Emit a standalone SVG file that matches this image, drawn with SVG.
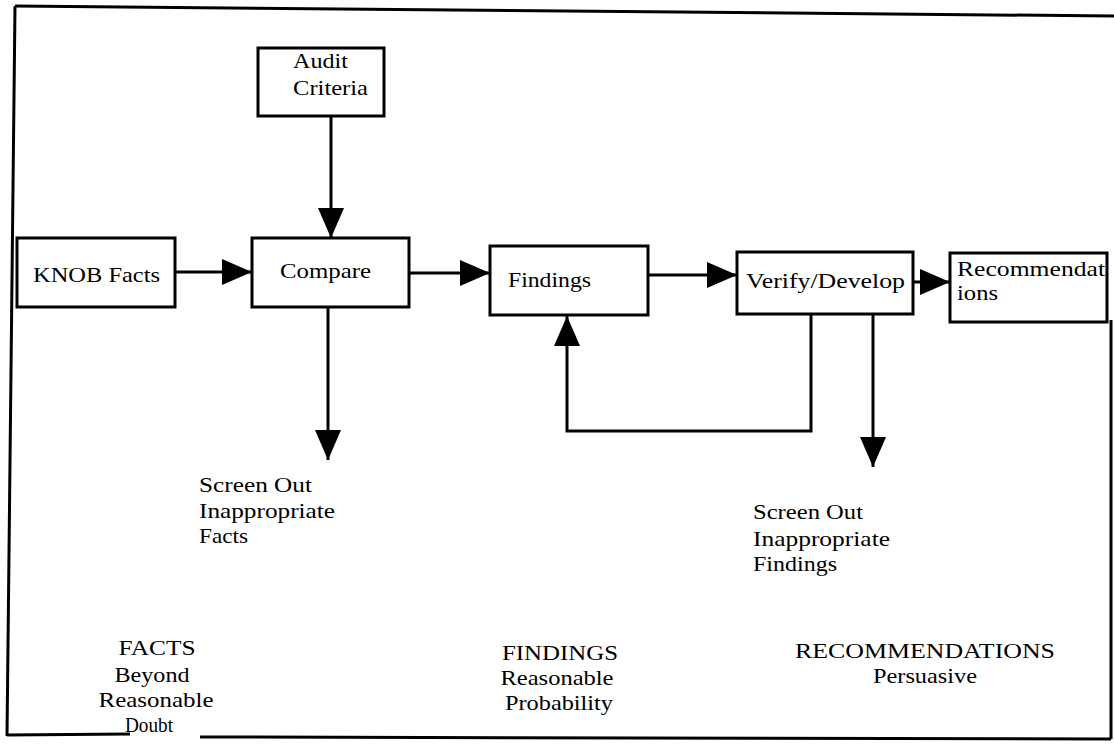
<svg xmlns="http://www.w3.org/2000/svg" width="1114" height="751" viewBox="0 0 1114 751">
<style>
.box{fill:#fff;stroke:#000;stroke-width:3}
.t{font-family:"Liberation Serif","DejaVu Serif",serif;font-size:21px;fill:#000}
.c{text-anchor:middle}
.ln{fill:none;stroke:#000;stroke-width:3}
.fr{fill:none;stroke:#000;stroke-width:3}
</style>
<defs>
<marker id="ah" markerUnits="userSpaceOnUse" markerWidth="32" markerHeight="28" refX="30" refY="13" orient="auto">
<path d="M0,0 L30,13 L0,26 z" fill="#000"/>
</marker>
</defs>
<rect width="1114" height="751" fill="#fff"/>
<g id="frame">
<path class="fr" d="M15,6 L1114,16"/>
<path class="fr" d="M15,6 L7,736"/>
<path class="fr" d="M7,735 L130,734"/>
<path class="fr" d="M200,737 L1111,739"/>
<path class="fr" d="M1111,320 L1111,739"/>
</g>
<g id="connectors">
<path class="ln" d="M331,116 L331,238" marker-end="url(#ah)"/>
<path class="ln" d="M175,272 L252,272" marker-end="url(#ah)"/>
<path class="ln" d="M328,307 L328,460" marker-end="url(#ah)"/>
<path class="ln" d="M409,273 L490,273" marker-end="url(#ah)"/>
<path class="ln" d="M648,275 L737,275" marker-end="url(#ah)"/>
<path class="ln" d="M913,282 L950,282" marker-end="url(#ah)"/>
<path class="ln" d="M811,313 L811,431 L567,431 L567,316" marker-end="url(#ah)"/>
<path class="ln" d="M873,313 L873,467" marker-end="url(#ah)"/>
</g>
<g id="audit-criteria">
<rect class="box" x="258" y="48" width="126" height="68"/>
<text class="t" x="293" y="68" textLength="55" lengthAdjust="spacingAndGlyphs">Audit</text>
<text class="t" x="293" y="95" textLength="75" lengthAdjust="spacingAndGlyphs">Criteria</text>
</g>
<g id="knob-facts">
<rect class="box" x="17" y="238" width="158" height="69"/>
<text class="t" x="33" y="282" textLength="127" lengthAdjust="spacingAndGlyphs">KNOB Facts</text>
</g>
<g id="compare">
<rect class="box" x="252" y="238" width="157" height="69"/>
<text class="t" x="280" y="278" textLength="91" lengthAdjust="spacingAndGlyphs">Compare</text>
</g>
<g id="findings">
<rect class="box" x="490" y="246" width="158" height="69"/>
<text class="t" x="508" y="287" textLength="83" lengthAdjust="spacingAndGlyphs">Findings</text>
</g>
<g id="verify-develop">
<rect class="box" x="737" y="252" width="176" height="62"/>
<text class="t" x="746" y="288" textLength="159" lengthAdjust="spacingAndGlyphs">Verify/Develop</text>
</g>
<g id="recommendations">
<rect class="box" x="950" y="253" width="157" height="69"/>
<text class="t" x="957" y="276" textLength="148" lengthAdjust="spacingAndGlyphs">Recommendat</text>
<text class="t" x="957" y="300" textLength="41" lengthAdjust="spacingAndGlyphs">ions</text>
</g>
<g id="screen-out-facts">
<text class="t" x="199" y="492" textLength="113" lengthAdjust="spacingAndGlyphs">Screen Out</text>
<text class="t" x="199" y="518" textLength="136" lengthAdjust="spacingAndGlyphs">Inappropriate</text>
<text class="t" x="199" y="543" textLength="49" lengthAdjust="spacingAndGlyphs">Facts</text>
</g>
<g id="screen-out-findings">
<text class="t" x="753" y="519" textLength="110" lengthAdjust="spacingAndGlyphs">Screen Out</text>
<text class="t" x="753" y="546" textLength="137" lengthAdjust="spacingAndGlyphs">Inappropriate</text>
<text class="t" x="753" y="571" textLength="84" lengthAdjust="spacingAndGlyphs">Findings</text>
</g>
<g id="facts-label">
<text class="t c" x="157" y="655" textLength="77" lengthAdjust="spacingAndGlyphs">FACTS</text>
<text class="t c" x="152" y="682" textLength="75" lengthAdjust="spacingAndGlyphs">Beyond</text>
<text class="t c" x="156" y="707" textLength="115" lengthAdjust="spacingAndGlyphs">Reasonable</text>
<text class="t c" x="149" y="732" textLength="48" lengthAdjust="spacingAndGlyphs">Doubt</text>
</g>
<g id="findings-label">
<text class="t c" x="560" y="660" textLength="116" lengthAdjust="spacingAndGlyphs">FINDINGS</text>
<text class="t c" x="557" y="685" textLength="113" lengthAdjust="spacingAndGlyphs">Reasonable</text>
<text class="t c" x="559" y="710" textLength="108" lengthAdjust="spacingAndGlyphs">Probability</text>
</g>
<g id="recommendations-label">
<text class="t c" x="925" y="658" textLength="260" lengthAdjust="spacingAndGlyphs">RECOMMENDATIONS</text>
<text class="t c" x="925" y="683" textLength="104" lengthAdjust="spacingAndGlyphs">Persuasive</text>
</g>
</svg>
